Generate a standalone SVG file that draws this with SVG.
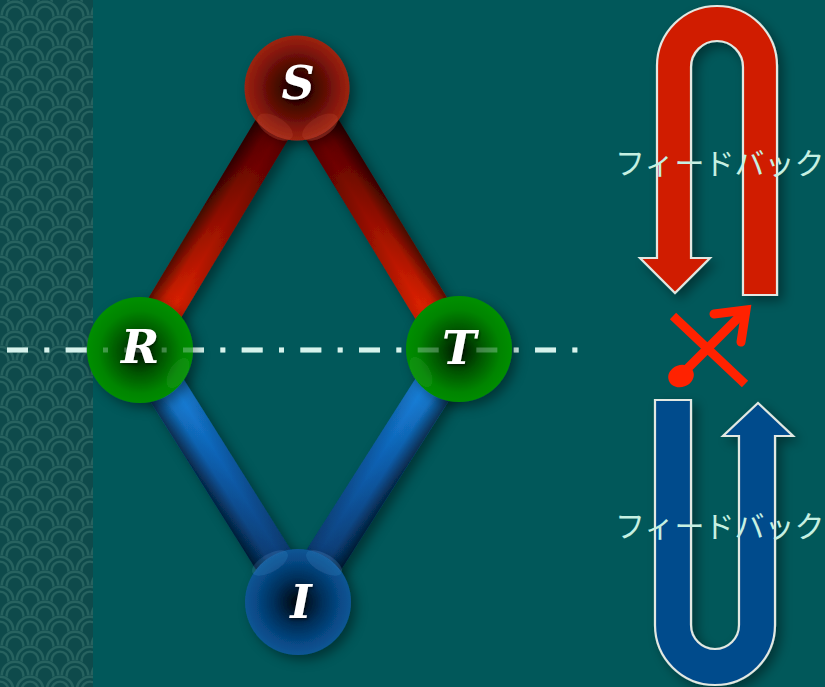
<svg xmlns="http://www.w3.org/2000/svg" xmlns:xlink="http://www.w3.org/1999/xlink" width="825" height="687" viewBox="0 0 825 687">
  <style>
    .node-label { font-family: "DejaVu Serif", "Liberation Serif", serif; font-weight: bold; font-style: italic; font-size: 46px; fill: #ffffff; text-anchor: middle; }
    .fb-label { font-family: "Noto Sans CJK JP", "Noto Sans", sans-serif; font-size: 30px; fill: #c6f0e2; }
    .uarrow { stroke: #e2e8e2; stroke-width: 2.2; stroke-linejoin: miter; }
    .axis { fill: none; stroke: #d6f3ec; stroke-width: 5; stroke-dasharray: 21 16.33 5 16.34; }
    .mark { fill: none; stroke: #ff2200; stroke-width: 9; }
    .ring { fill: none; stroke: #27625f; }
  </style>
  <defs>
    <!-- one arch of the wave pattern: nested arcs on a dark ground -->
    <g id="scale">
      <path d="M-15 15 V0 A15 15 0 0 1 15 0 V15 Z" fill="#0e4a4b"/>
      <path class="ring" stroke-width="2.6" d="M-13.2 15 V0 A13.2 13.2 0 0 1 13.2 0 V15"/>
      <path class="ring" stroke-width="2.4" d="M-8.4 15 V0 A8.4 8.4 0 0 1 8.4 0 V15"/>
    </g>
    <pattern id="wave" width="30" height="30" patternUnits="userSpaceOnUse" x="0" y="0">
      <use href="#scale" x="15" y="-15"/>
      <use href="#scale" x="0" y="0"/>
      <use href="#scale" x="30" y="0"/>
      <use href="#scale" x="15" y="15"/>
      <use href="#scale" x="0" y="30"/>
      <use href="#scale" x="30" y="30"/>
      <use href="#scale" x="15" y="45"/>
    </pattern>

    <filter id="shadow" x="-30%" y="-30%" width="160%" height="160%">
      <feDropShadow dx="5" dy="5" stdDeviation="6" flood-color="#000" flood-opacity="0.4"/>
    </filter>
    <filter id="txtShadow" x="-20%" y="-20%" width="140%" height="140%">
      <feDropShadow dx="1" dy="1.5" stdDeviation="1" flood-color="#000" flood-opacity="0.5"/>
    </filter>

    <!-- sphere fills -->
    <radialGradient id="gRed" cx="0.5" cy="0.5" r="0.5">
      <stop offset="0" stop-color="#100000"/>
      <stop offset="0.45" stop-color="#520904"/>
      <stop offset="0.8" stop-color="#87180a"/>
      <stop offset="1" stop-color="#9c2412"/>
    </radialGradient>
    <radialGradient id="gGreen" cx="0.5" cy="0.52" r="0.5">
      <stop offset="0" stop-color="#001400"/>
      <stop offset="0.4" stop-color="#005400"/>
      <stop offset="0.78" stop-color="#008400"/>
      <stop offset="1" stop-color="#008e00"/>
    </radialGradient>
    <radialGradient id="gBlue" cx="0.5" cy="0.5" r="0.5">
      <stop offset="0" stop-color="#000509"/>
      <stop offset="0.45" stop-color="#022f5a"/>
      <stop offset="0.8" stop-color="#074a87"/>
      <stop offset="1" stop-color="#0b5594"/>
    </radialGradient>

    <!-- rod fills (along the rod) -->
    <linearGradient id="rodRed" x1="0" y1="0" x2="1" y2="0">
      <stop offset="0" stop-color="#4a0000"/>
      <stop offset="0.3" stop-color="#720600"/>
      <stop offset="0.7" stop-color="#c41a00"/>
      <stop offset="1" stop-color="#ff2c00"/>
    </linearGradient>
    <linearGradient id="rodBlue" x1="0" y1="0" x2="1" y2="0">
      <stop offset="0" stop-color="#1c94f2"/>
      <stop offset="0.45" stop-color="#0e62b4"/>
      <stop offset="1" stop-color="#053060"/>
    </linearGradient>
    <!-- rod shading across its width -->
    <linearGradient id="shadePlus" x1="0" y1="0" x2="0" y2="1">
      <stop offset="0" stop-color="#000" stop-opacity="0.12"/>
      <stop offset="0.3" stop-color="#000" stop-opacity="0"/>
      <stop offset="0.6" stop-color="#000" stop-opacity="0.08"/>
      <stop offset="1" stop-color="#000" stop-opacity="0.6"/>
    </linearGradient>
    <linearGradient id="shadeMinus" x1="0" y1="1" x2="0" y2="0">
      <stop offset="0" stop-color="#000" stop-opacity="0.12"/>
      <stop offset="0.3" stop-color="#000" stop-opacity="0"/>
      <stop offset="0.6" stop-color="#000" stop-opacity="0.08"/>
      <stop offset="1" stop-color="#000" stop-opacity="0.6"/>
    </linearGradient>
  </defs>

  <!-- background -->
  <rect width="825" height="687" fill="#01585a"/>
  <rect width="93" height="687" fill="url(#wave)"/>

  <!-- rods between the spheres -->
  <g id="connectors" filter="url(#shadow)">
    <g id="rod-S-R" transform="translate(297 88) rotate(121.03)">
      <rect x="0" y="-19" width="305" height="38" fill="url(#rodRed)"/>
      <rect x="0" y="-19" width="305" height="38" fill="url(#shadePlus)"/>
    </g>
    <g id="rod-S-T" transform="translate(297 88) rotate(58.65)">
      <rect x="0" y="-19" width="306" height="38" fill="url(#rodRed)"/>
      <rect x="0" y="-19" width="306" height="38" fill="url(#shadeMinus)"/>
    </g>
    <g id="rod-R-I" transform="translate(141 349) rotate(57.85)">
      <rect x="0" y="-20" width="299" height="40" fill="url(#rodBlue)"/>
      <rect x="0" y="-20" width="299" height="40" fill="url(#shadePlus)"/>
    </g>
    <g id="rod-T-I" transform="translate(458 349) rotate(122.47)">
      <rect x="0" y="-20" width="300" height="40" fill="url(#rodBlue)"/>
      <rect x="0" y="-20" width="300" height="40" fill="url(#shadeMinus)"/>
    </g>
  </g>

  <!-- horizontal axis -->
  <path class="axis" d="M7 350 H578"/>

  <!-- spheres -->
  <g id="node-S" filter="url(#shadow)">
    <circle cx="297" cy="88" r="52.5" fill="url(#gRed)"/>
    <ellipse cx="275" cy="127" rx="20" ry="10" transform="rotate(32 275 127)" fill="#ff8060" fill-opacity="0.12"/>
    <ellipse cx="320" cy="127" rx="20" ry="10" transform="rotate(-32 320 127)" fill="#ff8060" fill-opacity="0.12"/>
  </g>
  <g id="node-R" filter="url(#shadow)">
    <circle cx="140" cy="350" r="53" fill="url(#gGreen)"/>
    <ellipse cx="178" cy="373" rx="17" ry="9" transform="rotate(-58 178 373)" fill="#80ff80" fill-opacity="0.06"/>
  </g>
  <g id="node-T" filter="url(#shadow)">
    <circle cx="459" cy="349" r="53" fill="url(#gGreen)"/>
    <ellipse cx="421" cy="372" rx="17" ry="9" transform="rotate(58 421 372)" fill="#80ff80" fill-opacity="0.06"/>
  </g>
  <g id="node-I" filter="url(#shadow)">
    <circle cx="298" cy="602" r="53" fill="url(#gBlue)"/>
    <ellipse cx="270" cy="563" rx="20" ry="9" transform="rotate(-30 270 563)" fill="#80c0ff" fill-opacity="0.13"/>
    <ellipse cx="324" cy="563" rx="20" ry="9" transform="rotate(30 324 563)" fill="#80c0ff" fill-opacity="0.13"/>
  </g>

  <!-- axis seen faintly through the spheres -->
  <path class="axis" d="M7 350 H578" stroke-opacity="0.3"/>

  <!-- sphere letters -->
  <g filter="url(#txtShadow)">
    <text class="node-label" x="298" y="99">S</text>
    <text class="node-label" x="140" y="363">R</text>
    <text class="node-label" x="459" y="364">T</text>
    <text class="node-label" x="301" y="618">I</text>
  </g>

  <!-- upper feedback loop -->
  <g id="loop-top">
    <path class="uarrow" filter="url(#shadow)" fill="#d01e00"
          d="M777 295 V66 A60 60 0 0 0 657 66 V258 H640 L675 293 L710 258 H691 V67 A26 26 0 0 1 743 67 V295 Z"/>
    <text class="fb-label" x="615" y="174">フィードバック</text>
  </g>

  <!-- crossed-out transfer mark -->
  <g id="mark">
    <path class="mark" d="M673 316 L745 384"/>
    <path class="mark" d="M682 374 L744 312"/>
    <path class="mark" d="M714 314 L746 310 L741 342" stroke-linecap="round" stroke-linejoin="miter"/>
    <ellipse cx="681" cy="376" rx="13" ry="11" transform="rotate(-20 681 376)" fill="#ff2200"/>
  </g>

  <!-- lower feedback loop -->
  <g id="loop-bottom">
    <path class="uarrow" filter="url(#shadow)" fill="#054b8c"
          d="M655 400 V625 A60 60 0 0 0 775 625 V436 H793 L758 403 L723 436 H739 V625 A24 24 0 0 1 691 625 V400 Z"/>
    <text class="fb-label" x="615" y="537">フィードバック</text>
  </g>
</svg>
